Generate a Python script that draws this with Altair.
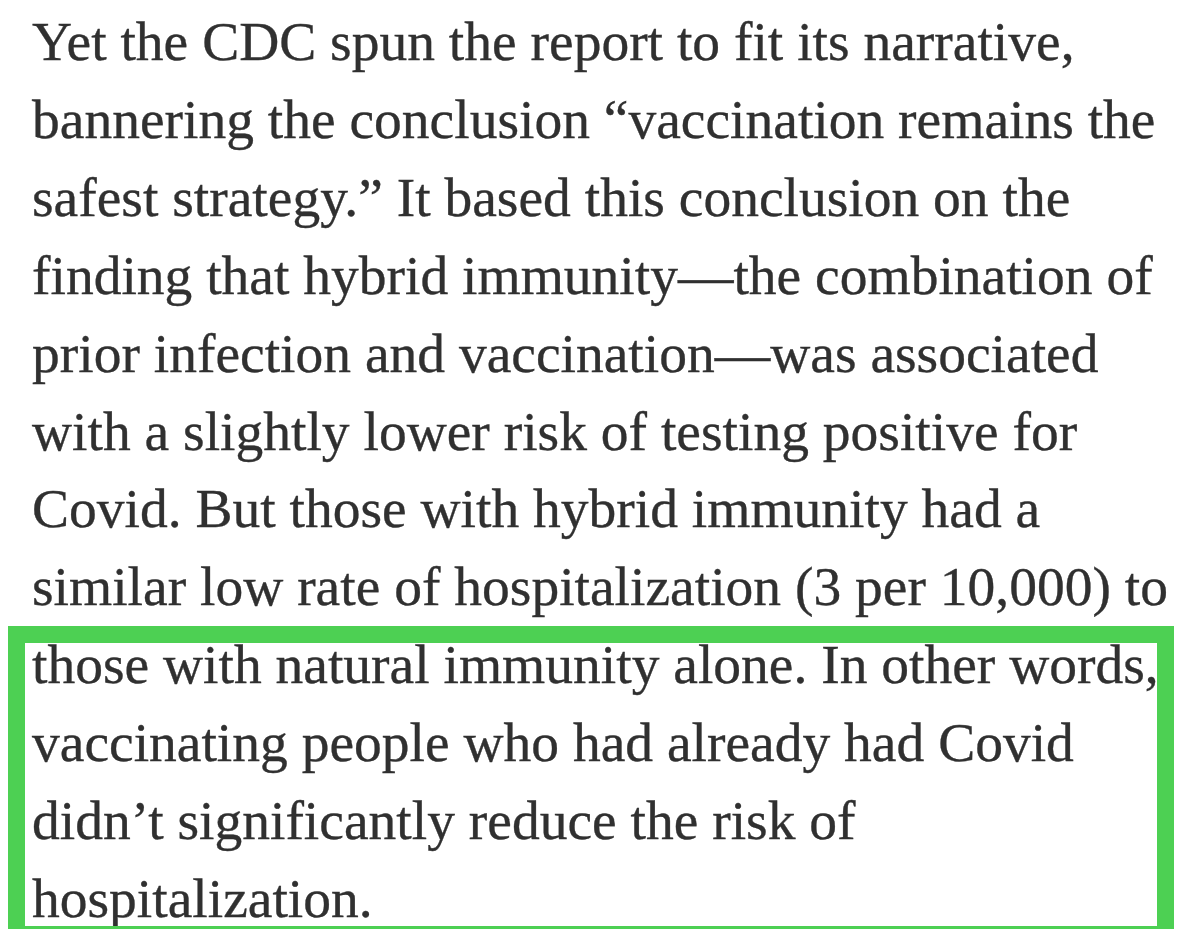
import altair as alt
import pandas as pd

# Paragraph lines as they appear in the reference
lines = [
    "Yet the CDC spun the report to fit its narrative,",
    "bannering the conclusion \u201cvaccination remains the",
    "safest strategy.\u201d It based this conclusion on the",
    "finding that hybrid immunity\u2014the combination of",
    "prior infection and vaccination\u2014was associated",
    "with a slightly lower risk of testing positive for",
    "Covid. But those with hybrid immunity had a",
    "similar low rate of hospitalization (3 per 10,000) to",
    "those with natural immunity alone. In other words,",
    "vaccinating people who had already had Covid",
    "didn\u2019t significantly reduce the risk of",
    "hospitalization.",
]
line_no = list(range(1, len(lines) + 1))

df = pd.DataFrame({"line": line_no, "text": lines})

y_scale = alt.Scale(domain=[1, 12], range=[52, 909], nice=False, zero=False)

text = alt.Chart(df).mark_text(
    align="left",
    baseline="alphabetic",
    font="Liberation Serif",
    fontSize=55.5,
    color="#303030",
    stroke="#303030",
    strokeWidth=0.35,
).encode(
    x=alt.value(21),
    y=alt.Y("line:Q", scale=y_scale, axis=None),
    text="text:N",
)

frame = alt.Chart(pd.DataFrame({"a": [0]})).mark_rect(
    filled=False, stroke="#4dd053", strokeWidth=17
).encode(
    x=alt.value(5.5),
    x2=alt.value(1154.5),
    y=alt.value(626.5),
    y2=alt.value(926.5),
)

chart = alt.layer(text, frame).properties(
    width=1184,
    height=921,
    padding=0,
    background="white",
    autosize=alt.AutoSizeParams(type="fit", contains="padding"),
).configure_view(stroke=None)

chart.save("out.html", embed_options={"renderer": "svg", "actions": False})
